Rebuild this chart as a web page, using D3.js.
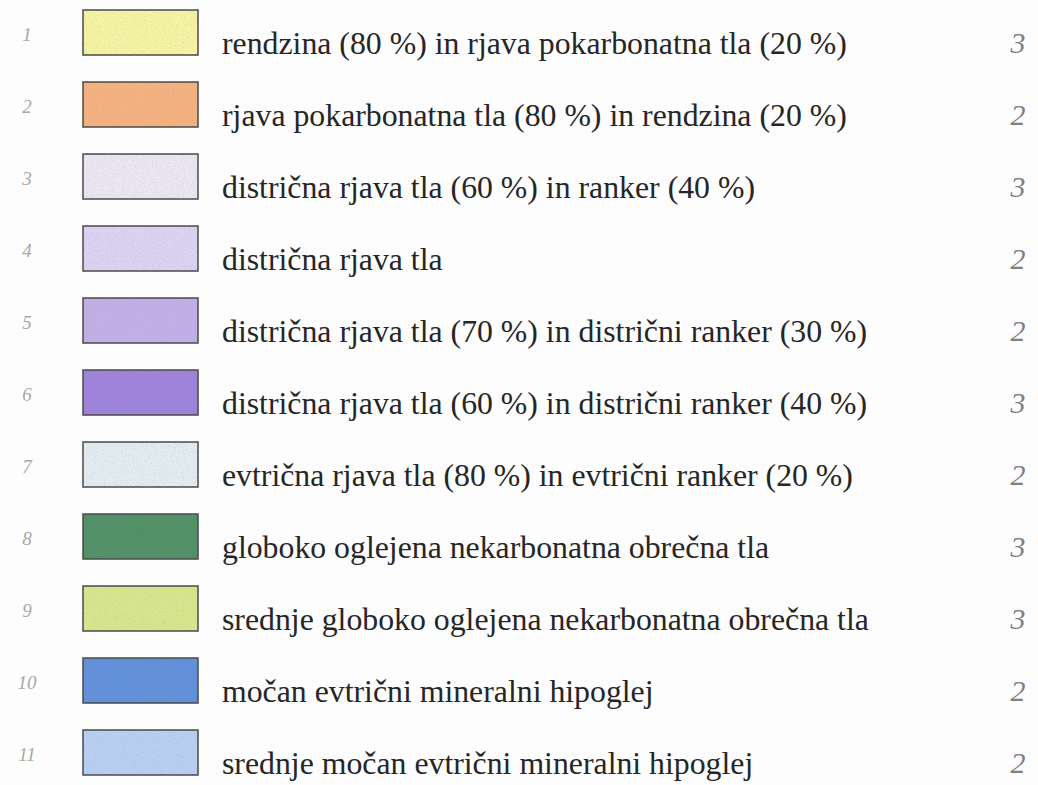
<!DOCTYPE html>
<html>
<head>
<meta charset="utf-8">
<script src="https://cdn.jsdelivr.net/npm/d3@7"></script>
<style>
  body { margin: 0; background: #fdfdfd; }
  svg { display: block; }
</style>
</head>
<body>
<script>
// legend data
var labels = [
    "rendzina (80 %) in rjava pokarbonatna tla (20 %)",
    "rjava pokarbonatna tla (80 %) in rendzina (20 %)",
    "distrična rjava tla (60 %) in ranker (40 %)",
    "distrična rjava tla",
    "distrična rjava tla (70 %) in distrični ranker (30 %)",
    "distrična rjava tla (60 %) in distrični ranker (40 %)",
    "evtrična rjava tla (80 %) in evtrični ranker (20 %)",
    "globoko oglejena nekarbonatna obrečna tla",
    "srednje globoko oglejena nekarbonatna obrečna tla",
    "močan evtrični mineralni hipoglej",
    "srednje močan evtrični mineralni hipoglej"
];
var rowNumbers = [1, 2, 3, 4, 5, 6, 7, 8, 9, 10, 11];
var marks = [3, 2, 3, 2, 2, 3, 2, 3, 3, 2, 2];
var colors = ["#f8f5a2", "#f6b27e", "#ece7f3", "#ddd3f3", "#c3afe8", "#9e82dc",
              "#e4eef1", "#4f9064", "#d9e78c", "#6190da", "#b8d0f1"];

var svgWidth = 1038;
var svgHeight = 785;

var svg = d3.select("body")
    .append("svg")
    .attr("width", svgWidth)
    .attr("height", svgHeight);

// speckle texture like the printed swatches
var grain = svg.append("defs").append("filter").attr("id", "grain")
    .attr("x", 0).attr("y", 0).attr("width", 1).attr("height", 1);
grain.append("feTurbulence")
    .attr("type", "fractalNoise")
    .attr("baseFrequency", 0.9)
    .attr("numOctaves", 2)
    .attr("seed", 4)
    .attr("result", "noise");
grain.append("feColorMatrix")
    .attr("in", "noise")
    .attr("type", "matrix")
    .attr("values", "0 0 0 0 0.3  0 0 0 0 0.3  0 0 0 0 0.4  0 0 0 -1.6 0.9")
    .attr("result", "dots");
grain.append("feComposite")
    .attr("in", "dots")
    .attr("in2", "SourceGraphic")
    .attr("operator", "in");

// row positions
var y = d3.scaleBand()
    .domain(d3.range(labels.length))
    .range([10, 802]);

var swatchX = 83;
var swatchW = 115;
var swatchH = 45;

// swatches
svg.selectAll("rect.swatch")
    .data(colors)
    .enter()
    .append("rect")
    .attr("class", "swatch")
    .attr("x", swatchX)
    .attr("y", (d, i) => y(i))
    .attr("width", swatchW)
    .attr("height", swatchH)
    .attr("fill", d => d);

svg.selectAll("rect.grain")
    .data(colors)
    .enter()
    .append("rect")
    .attr("class", "grain")
    .attr("x", swatchX)
    .attr("y", (d, i) => y(i))
    .attr("width", swatchW)
    .attr("height", swatchH)
    .attr("fill", "#fff")
    .attr("filter", "url(#grain)")
    .attr("opacity", 0.35);

svg.selectAll("rect.frame")
    .data(colors)
    .enter()
    .append("rect")
    .attr("class", "frame")
    .attr("x", swatchX)
    .attr("y", (d, i) => y(i))
    .attr("width", swatchW)
    .attr("height", swatchH)
    .attr("fill", "none")
    .attr("stroke", "#4a4a4a")
    .attr("stroke-width", 1.5);

// labels
var labelText = svg.selectAll("text.label")
    .data(labels)
    .enter()
    .append("text")
    .attr("class", "label")
    .attr("x", 222)
    .attr("y", (d, i) => y(i) + 44)
    .style("font-family", "serif")
    .style("font-size", "28px")
    .attr("fill", "#262626")
    .text(d => d);

// fit the font size to the scanned line width
var firstWidth = labelText.node().getComputedTextLength();
var fontSize = 28 * 625 / firstWidth;
labelText.style("font-size", fontSize.toFixed(2) + "px");

// pencil numbers on the left
svg.selectAll("text.num")
    .data(rowNumbers)
    .enter()
    .append("text")
    .attr("class", "num")
    .attr("x", 27)
    .attr("y", (d, i) => y(i) + swatchH / 2 + 8)
    .attr("text-anchor", "middle")
    .style("font-family", "serif")
    .style("font-style", "italic")
    .style("font-size", "19px")
    .attr("fill", "#a8a8a8")
    .text(d => d);

// pencil marks on the right
svg.selectAll("text.mark")
    .data(marks)
    .enter()
    .append("text")
    .attr("class", "mark")
    .attr("x", 1018)
    .attr("y", (d, i) => y(i) + swatchH / 2 + 20)
    .attr("text-anchor", "middle")
    .style("font-family", "serif")
    .style("font-style", "italic")
    .style("font-size", "30px")
    .attr("fill", "#808080")
    .text(d => d);
</script>
</body>
</html>
